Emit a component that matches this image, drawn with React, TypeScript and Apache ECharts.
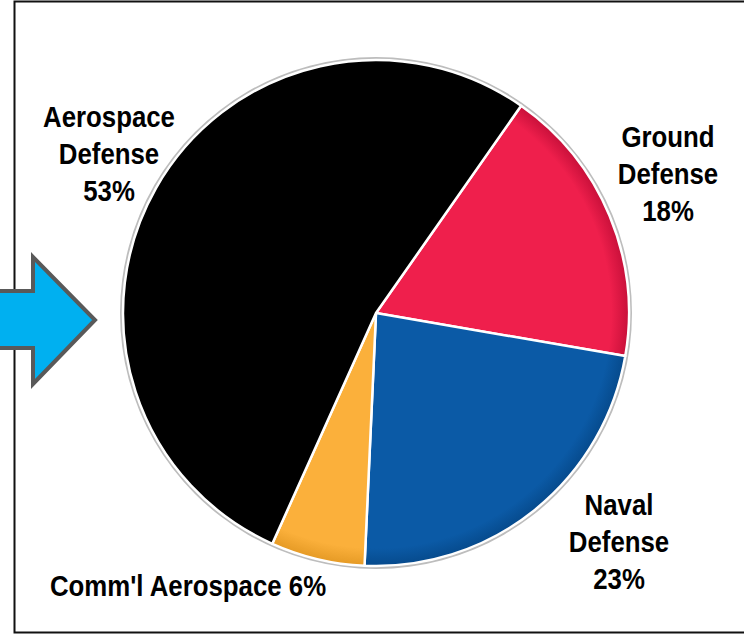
import React, { useEffect, useRef } from "react";
import * as echarts from "echarts";

const categories = ["Ground Defense", "Naval Defense", "Comm'l Aerospace", "Aerospace Defense"];
const shares = [18, 23, 6, 53];
const colors = ["#EF1F4C", "#0B5AA6", "#FBB03B", "#000000"];
const edgeColors = ["#C8103A", "#064A8C", "#E59A25", "#000000"];

const CX = 376;
const CY = 313;
const R = 253;

const labelPos: [number, number][] = [
  [668, 174],
  [619, 542],
  [188, 586],
  [109, 154],
];

function labelText(i: number) {
  const name = categories[i];
  return name === "Comm'l Aerospace"
    ? `${name} ${shares[i]}%`
    : `${name.replace(" ", "\n")}\n${shares[i]}%`;
}

export default function App() {
  const ref = useRef<HTMLDivElement>(null);
  useEffect(() => {
    const chart = echarts.init(ref.current!, null, { renderer: "svg" });
    const data = categories.map((name, i) => ({
      name,
      value: shares[i],
      itemStyle: {
        color: new echarts.graphic.RadialGradient(
          CX,
          CY,
          R,
          [
            { offset: 0, color: colors[i] },
            { offset: 0.93, color: colors[i] },
            { offset: 1, color: edgeColors[i] },
          ],
          true
        ),
      },
    }));
    const labels = categories.map((_, i) => ({
      type: "text",
      x: labelPos[i][0],
      y: labelPos[i][1],
      scaleX: 0.89,
      z: 20,
      style: {
        text: labelText(i),
        fill: "#000",
        font: "bold 29px 'Liberation Sans', Arial, sans-serif",
        lineHeight: 37,
        textAlign: "center",
        textVerticalAlign: "middle",
      },
    }));
    chart.setOption({
      animation: false,
      backgroundColor: "#ffffff",
      graphic: [
        {
          type: "rect",
          shape: { x: 14.5, y: 1.5, width: 740, height: 631 },
          style: { fill: "none", stroke: "#111", lineWidth: 2 },
          z: 0,
        },
        {
          type: "circle",
          shape: { cx: CX, cy: CY, r: R + 3 },
          style: { fill: "#BDBDBD" },
          z: 0,
        },
        {
          type: "polygon",
          shape: {
            points: [
              [-10, 291],
              [33, 291],
              [33, 257],
              [95, 320],
              [33, 384],
              [33, 348],
              [-10, 348],
            ],
          },
          style: { fill: "#00B0F0", stroke: "#595959", lineWidth: 4, lineJoin: "miter" },
          z: 10,
        },
        ...labels,
      ],
      series: [
        {
          type: "pie",
          center: [CX, CY],
          radius: [0, R],
          startAngle: 55,
          clockwise: true,
          z: 2,
          itemStyle: { borderColor: "#ffffff", borderWidth: 2.5 },
          emphasis: { disabled: true },
          label: { show: false },
          labelLine: { show: false },
          data,
        },
      ],
    });
    return () => chart.dispose();
  }, []);
  return (
    <div
      ref={ref}
      style={{ position: "fixed", left: 0, top: 0, width: 744, height: 635 }}
    />
  );
}
